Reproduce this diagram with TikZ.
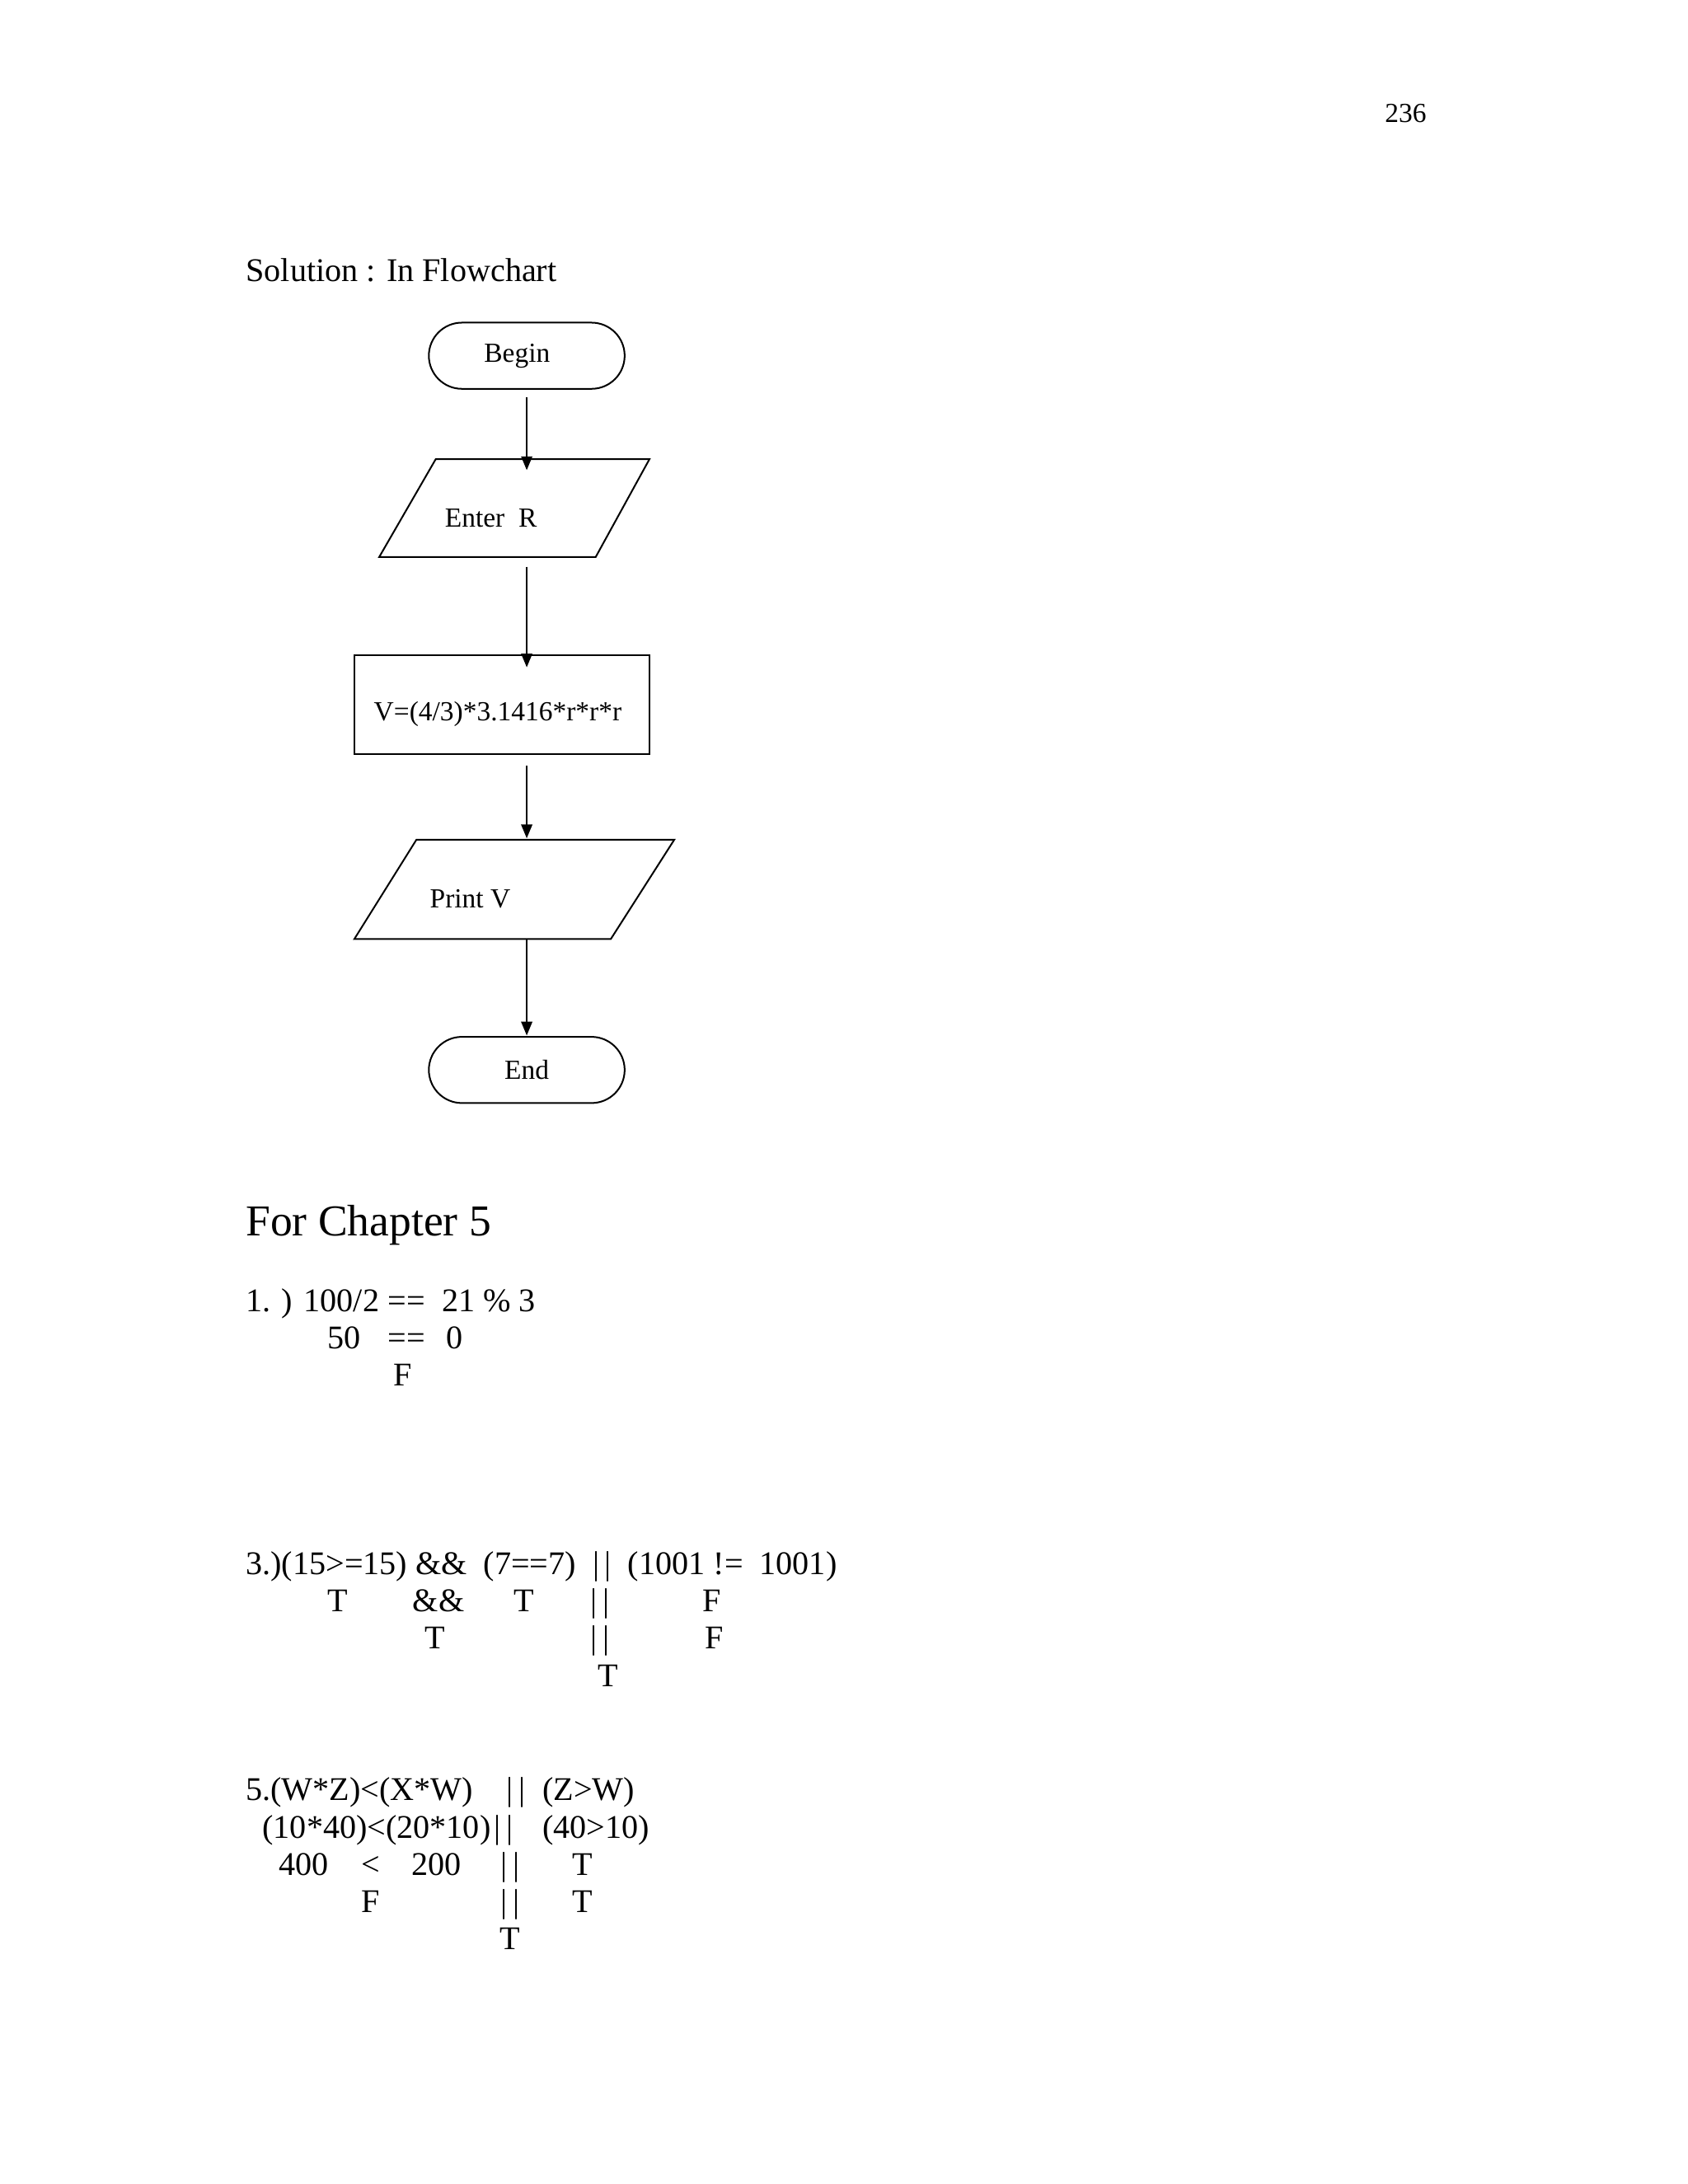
\documentclass[tikz,border=0pt]{standalone}
\usepackage{fontspec}
\setmainfont{Liberation Serif}
\usetikzlibrary{arrows.meta}
\begin{document}
\begin{tikzpicture}[x=0.5pt,y=-0.5pt,
  box/.style={draw,line width=0.6pt},
  arr/.style={draw,line width=0.6pt,-{Triangle[length=5pt,width=4pt]}},
  t/.style={anchor=base west,inner sep=0pt,font=\fontsize{12}{14}\selectfont},
  ft/.style={inner sep=0pt,font=\fontsize{10}{12}\selectfont}]
\useasboundingbox (0,0) rectangle (1224,1584);
\node[t,font=\fontsize{10}{12}\selectfont] (pg) at (1004,89) {236};
\node[t] (sol) at (178,204) {Solution : In Flowchart};
% flowchart
\draw[box,rounded corners=12pt] (311,234) rectangle (453,282);
\node[ft] (begin) at (375,258) {Begin};
\draw[box] (275,404) -- (316,333) -- (471,333) -- (432,404) -- cycle;
\node[ft] (enter) at (356,376) {Enter\ \ R};
\draw[box] (257,475) rectangle (471,547);
\node[ft] (calc) at (361,518) {V=(4/3)*3.1416*r*r*r};
\draw[box] (257,681) -- (302,609) -- (489,609) -- (443,681) -- cycle;
\node[ft] (print) at (341,652) {Print V};
\draw[box,rounded corners=12pt] (311,752) rectangle (453,800);
\node[ft] (end) at (382,776) {End};
\coordinate (a1) at (382,288); \coordinate (b1) at (382,341);
\coordinate (a2) at (382,411); \coordinate (b2) at (382,484);
\coordinate (a3) at (382,555); \coordinate (b3) at (382,608);
\coordinate (a4) at (382,681); \coordinate (b4) at (382,751);
\draw[arr] (a1) -- (b1);
\draw[arr] (a2) -- (b2);
\draw[arr] (a3) -- (b3);
\draw[arr] (a4) -- (b4);
% chapter 5
\node[t,font=\fontsize{16}{19}\selectfont] (ch) at (178,896) {For Chapter 5};
\node[t] (l1a) at (178,951) {1. ) 100/2};
\node[t] (l1b) at (281,951) {==};
\node[t] (l1c) at (320,951) {21 \% 3};
\node[t] (l2a) at (237,978) {50};
\node[t] (l2b) at (281,978) {==};
\node[t] (l2c) at (323,978) {0};
\node[t] (l3a) at (285,1005) {F};
\node[t] (m1) at (178,1142) {3.)(15>=15) \&\&\ \ (7==7)\ \ \textbar\,\textbar\ \ (1001 !=\ \ 1001)};
\node[t] (m2a) at (237,1169) {T};
\node[t] (m2b) at (299,1169) {\&\&};
\node[t] (m2c) at (372,1169) {T};
\node[t] (m2d) at (428,1169) {\textbar\,\textbar};
\node[t] (m2e) at (509,1169) {F};
\node[t] (m3a) at (308,1196) {T};
\node[t] (m3b) at (428,1196) {\textbar\,\textbar};
\node[t] (m3c) at (511,1196) {F};
\node[t] (m4a) at (433,1223) {T};
\node[t] (n1a) at (178,1306) {5.(W*Z)<(X*W)};
\node[t] (n1b) at (367,1306) {\textbar\,\textbar};
\node[t] (n1c) at (393,1306) {(Z>W)};
\node[t] (n2a) at (190,1333) {(10*40)<(20*10)};
\node[t] (n2b) at (358,1333) {\textbar\,\textbar};
\node[t] (n2c) at (393,1333) {(40>10)};
\node[t] (n3a) at (202,1360) {400};
\node[t] (n3b) at (262,1360) {<};
\node[t] (n3c) at (298,1360) {200};
\node[t] (n3d) at (363,1360) {\textbar\,\textbar};
\node[t] (n3e) at (415,1360) {T};
\node[t] (n4a) at (262,1387) {F};
\node[t] (n4b) at (363,1387) {\textbar\,\textbar};
\node[t] (n4c) at (415,1387) {T};
\node[t] (n5a) at (362,1414) {T};
\end{tikzpicture}
\end{document}
